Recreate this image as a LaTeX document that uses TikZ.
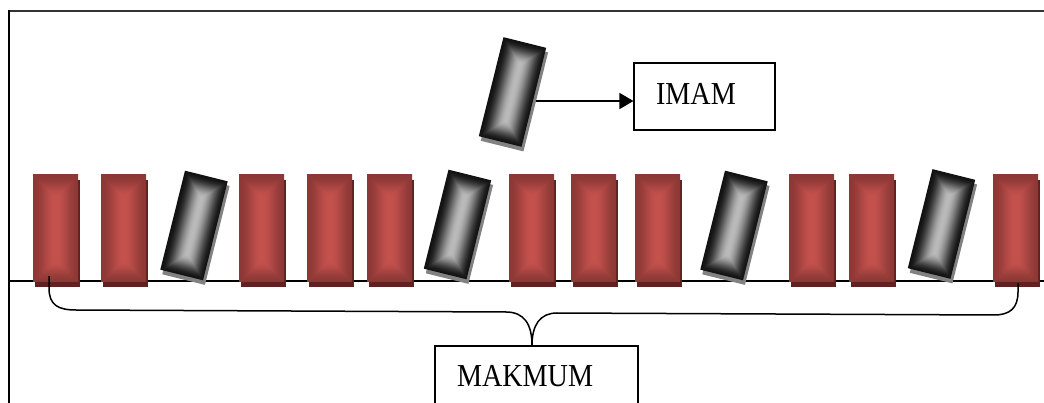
\documentclass[tikz,border=0pt]{standalone}
\usepackage{fontspec}
\newfontfamily\lblfont[FakeStretch=0.88]{Liberation Serif}
\usetikzlibrary{arrows.meta,shadows}

% Rectangular "pillow" gradients: colour depends on the distance to the
% nearest edge (the vertical axis is scaled by the block's aspect ratio),
% eased with a smoothstep so the light middle has no hard ridge.
\pgfdeclarefunctionalshading{redface}{\pgfpoint{-50bp}{-50bp}}{\pgfpoint{50bp}{50bp}}{}{
  abs 25 exch sub 2.378 mul exch abs 25 exch sub
  2 copy gt {exch} if pop
  25 div dup 1 gt {pop 1} if dup 0 lt {pop 0} if
  dup dup mul exch 2 mul 3 exch sub mul
  dup 0.22 mul 0.55 add exch
  dup 0.10 mul 0.22 add exch
  0.09 mul 0.21 add
}
\pgfdeclarefunctionalshading{grayface}{\pgfpoint{-50bp}{-50bp}}{\pgfpoint{50bp}{50bp}}{}{
  abs 25 exch sub 2.318 mul exch abs 25 exch sub
  2 copy gt {exch} if pop
  25 div dup 1 gt {pop 1} if dup 0 lt {pop 0} if
  dup dup mul exch 2 mul 3 exch sub mul
  0.66 mul 0.07 add dup dup
}

\definecolor{redshade}{RGB}{96,34,33}
\definecolor{grayshade}{RGB}{130,130,130}

\tikzset{
  redblock/.style={rectangle, inner sep=0pt, minimum width=45pt, minimum height=107pt,
    shade, shading=redface,
    drop shadow={shadow xshift=2pt, shadow yshift=-5pt, fill=redshade, opacity=1}},
  grayblock/.style={rectangle, inner sep=0pt, minimum width=44pt, minimum height=102pt,
    shade, shading=grayface,
    drop shadow={shadow xshift=3pt, shadow yshift=-4pt, fill=grayshade, opacity=1}},
  labelbox/.style={rectangle, draw=black, line width=1.1pt, fill=white,
    inner xsep=22pt, align=left, font=\lblfont\fontsize{32}{36}\selectfont},
  bracepath/.style={draw=black, line width=1.5pt},
  arrowline/.style={draw=black, line width=1.6pt, -{Triangle[length=14pt,width=16pt]}},
  framepath/.style={line width=2pt}
}

\begin{document}
\begin{tikzpicture}[x=1pt, y=-1pt]
\useasboundingbox (0,0) rectangle (1044,403);
\clip (0,0) rectangle (1044,403);

% enclosing frame (left and top edges)
\draw[framepath, black!80] (9,11) -- (1050,11);
\draw[framepath, black] (9,10) -- (9,410);

% floor line
\draw[line width=1.3pt] (9,281) -- (1050,281);

% standing rows
\foreach \n/\cx in {1/55.5, 2/123.5, 3/261.5, 4/329.5, 5/389.5, 6/531.5,
                    7/593.5, 8/657.5, 9/811.5, 10/871.5, 11/1015.5}
  {\node[redblock] (r\n) at (\cx,228.5) {};}

% bowing figures in the row
\foreach \n/\cx/\cy in {1/194/225.5, 2/457.5/224.5, 3/734/225.5, 4/941.5/224}
{
  \begin{scope}[transform canvas={rotate around={-14:(\cx,\cy)}}]
    \node[grayblock] (g\n) at (\cx,\cy) {};
  \end{scope}
}

% the figure in front
\begin{scope}[transform canvas={rotate around={-14:(512.5,92)}}]
  \node[grayblock] (g0) at (512.5,92) {};
\end{scope}
\coordinate (imamsrc) at (536,101);

% labels
\node[labelbox, text width=97pt, minimum height=67pt, text depth=6pt] (imam) at (704.5,96.5) {IMAM};
\node[labelbox, text width=159pt, minimum height=60pt, text depth=0pt] (makmum) at (536.5,376) {MAKMUM};

% arrow to the front label
\draw[arrowline] (imamsrc) -- (imamsrc -| imam.west);

% brace gathering the row
\draw[bracepath] ([xshift=-6.5pt,yshift=6pt]r1.south) -- (49,288)
  .. controls (49,305) and (58,310) .. (76,310) -- (506,312)
  .. controls (524,312) and (532,324) .. ([xshift=-4.5pt]makmum.north);
\draw[bracepath] ([xshift=2.5pt,yshift=-1pt]r11.south) -- (1018,292)
  .. controls (1018,308) and (1010,315) .. (994,315) -- (557,313)
  .. controls (540,313) and (532,325) .. ([xshift=-4.5pt]makmum.north);
\end{tikzpicture}
\end{document}
